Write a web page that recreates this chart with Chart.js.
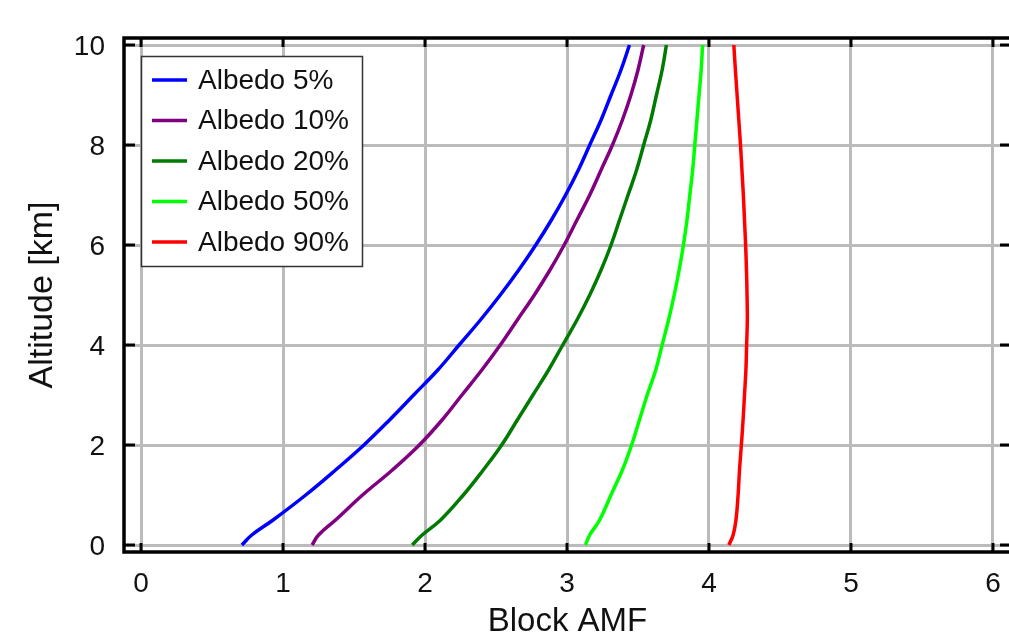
<!DOCTYPE html>
<html>
<head>
<meta charset="utf-8">
<script src="https://cdn.jsdelivr.net/npm/chart.js@4.4.0/dist/chart.umd.min.js"></script>
<style>
  html, body { margin: 0; padding: 0; background: #fff; overflow: hidden; }
  #wrap { width: 1020px; height: 637px; position: relative; }
</style>
</head>
<body>
<div id="wrap"><canvas id="AmfChart"></canvas></div>
<script>
// altitude levels [km] shared by all curves
const altitudes = [0, 0.2, 0.5, 1, 1.5, 2, 2.5, 3, 3.5, 4, 4.5, 5, 5.5, 6, 6.5, 7, 7.5, 8, 8.5, 9, 9.5, 10];

// block AMF for each surface albedo
const albedo5  = [0.71, 0.78, 0.93, 1.16, 1.37, 1.57, 1.75, 1.92, 2.09, 2.24, 2.39, 2.53, 2.66, 2.78, 2.89, 2.99, 3.08, 3.16, 3.24, 3.31, 3.38, 3.44];
const albedo10 = [1.205, 1.25, 1.37, 1.56, 1.77, 1.96, 2.12, 2.26, 2.40, 2.53, 2.65, 2.77, 2.88, 2.98, 3.07, 3.16, 3.24, 3.32, 3.39, 3.45, 3.50, 3.54];
const albedo20 = [1.91, 1.98, 2.11, 2.27, 2.41, 2.54, 2.65, 2.76, 2.87, 2.97, 3.07, 3.16, 3.24, 3.31, 3.37, 3.43, 3.49, 3.54, 3.59, 3.63, 3.67, 3.70];
const albedo50 = [3.13, 3.16, 3.23, 3.31, 3.39, 3.455, 3.51, 3.565, 3.625, 3.67, 3.715, 3.755, 3.79, 3.82, 3.845, 3.865, 3.885, 3.90, 3.915, 3.93, 3.945, 3.955];
const albedo90 = [4.14, 4.17, 4.19, 4.205, 4.215, 4.228, 4.24, 4.25, 4.26, 4.265, 4.27, 4.268, 4.264, 4.258, 4.25, 4.242, 4.232, 4.222, 4.21, 4.198, 4.186, 4.175];

const seriesLabels = ['Albedo 5%', 'Albedo 10%', 'Albedo 20%', 'Albedo 50%', 'Albedo 90%'];
const seriesColors = ['#0000ff', '#800080', '#007a00', '#00ff00', '#ff0000'];

const xTicks = [0, 1, 2, 3, 4, 5, 6];
const yTicks = [0, 2, 4, 6, 8, 10];

const FONT = "'Liberation Sans', Arial, Helvetica, sans-serif";

function toPoints(vals) {
  return vals.map((v, i) => ({ x: v, y: altitudes[i] }));
}

const allSeries = [albedo5, albedo10, albedo20, albedo50, albedo90];
const datasets = allSeries.map((s, i) => ({
  label: seriesLabels[i],
  data: toPoints(s),
  borderColor: seriesColors[i],
  backgroundColor: seriesColors[i],
  borderWidth: 3.5,
  pointRadius: 0,
  tension: 0.4,
  fill: false,
}));

// black frame with inward tick marks (gnuplot style)
const framePlugin = {
  id: 'frame',
  afterDatasetsDraw(chart) {
    const ctx = chart.ctx;
    const a = chart.chartArea;
    const xs = chart.scales.x, ys = chart.scales.y;
    ctx.save();
    ctx.strokeStyle = '#000';
    ctx.lineWidth = 3;
    ctx.beginPath();
    xTicks.forEach(v => {
      const px = xs.getPixelForValue(v);
      ctx.moveTo(px, a.bottom); ctx.lineTo(px, a.bottom - 9);
      ctx.moveTo(px, a.top); ctx.lineTo(px, a.top + 9);
    });
    yTicks.forEach(v => {
      const py = ys.getPixelForValue(v);
      ctx.moveTo(a.left, py); ctx.lineTo(a.left + 11, py);
      ctx.moveTo(a.right, py); ctx.lineTo(a.right - 11, py);
    });
    ctx.stroke();
    ctx.lineWidth = 3.5;
    ctx.strokeRect(a.left, a.top, a.right - a.left, a.bottom - a.top);
    ctx.restore();
  }
};

// boxed legend inside the plot, upper left
const boxLegend = {
  id: 'boxLegend',
  afterDraw(chart) {
    const ctx = chart.ctx;
    const left = 141.5, top = 56.5, w = 221, h = 210;
    ctx.save();
    ctx.fillStyle = '#fff';
    ctx.fillRect(left, top, w, h);
    ctx.strokeStyle = '#333';
    ctx.lineWidth = 1.5;
    ctx.strokeRect(left, top, w, h);
    ctx.font = '28px ' + FONT;
    ctx.textBaseline = 'middle';
    chart.data.datasets.forEach((ds, i) => {
      const y = 80 + i * 40.5;
      ctx.strokeStyle = ds.borderColor;
      ctx.lineWidth = 3.5;
      ctx.beginPath();
      ctx.moveTo(152, y); ctx.lineTo(187, y);
      ctx.stroke();
      ctx.fillStyle = '#111';
      ctx.fillText(ds.label, 198, y + 1);
    });
    ctx.restore();
  }
};

const AmfCtx = document.getElementById('AmfChart').getContext('2d');
const AmfChart = new Chart(AmfCtx, {
  type: 'line',
  data: { datasets: datasets },
  options: {
    responsive: true,
    maintainAspectRatio: false,
    animation: false,
    devicePixelRatio: 1,
    layout: { padding: { top: 38, right: 9, left: 0, bottom: 0 } },
    plugins: {
      legend: { display: false },
      tooltip: { enabled: false },
    },
    scales: {
      x: {
        type: 'linear',
        min: -0.12,
        max: 6.127,
        afterBuildTicks: s => { s.ticks = xTicks.map(v => ({ value: v })); },
        afterFit: s => { s.height = 85; },
        grid: { color: '#bbbbbb', lineWidth: 3, drawTicks: false },
        border: { display: false },
        ticks: {
          color: '#111',
          font: { family: FONT, size: 28 },
          padding: 15,
          maxRotation: 0,
        },
        title: {
          display: true,
          text: 'Block AMF',
          color: '#111',
          font: { family: FONT, size: 33, lineHeight: 0.94 },
          padding: 0,
        },
      },
      y: {
        type: 'linear',
        min: -0.14,
        max: 10.14,
        afterBuildTicks: s => { s.ticks = yTicks.map(v => ({ value: v })); },
        afterFit: s => { s.width = 124; },
        grid: { color: '#bbbbbb', lineWidth: 3, drawTicks: false },
        border: { display: false },
        ticks: {
          color: '#111',
          font: { family: FONT, size: 28 },
          padding: 19,
          labelOffset: 2,
        },
        title: {
          display: true,
          text: 'Altitude [km]',
          color: '#111',
          font: { family: FONT, size: 34 },
          padding: { top: 22, bottom: 0 },
        },
      },
    },
  },
  plugins: [framePlugin, boxLegend],
});
</script>
</body>
</html>
